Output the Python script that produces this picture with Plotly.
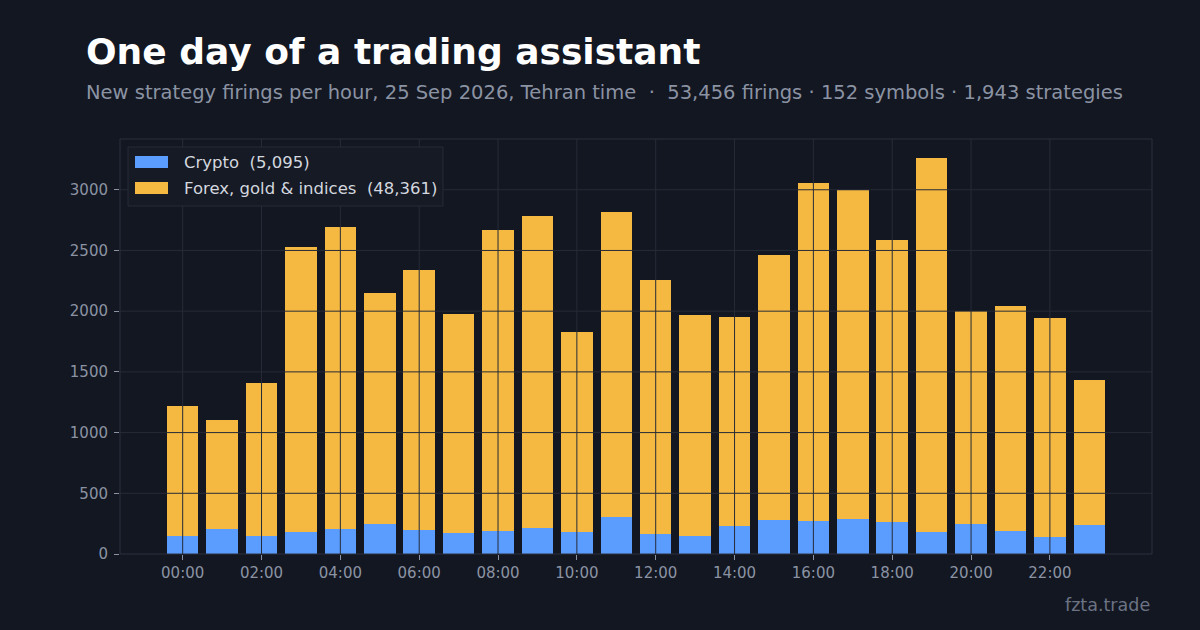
import plotly.graph_objects as go

# hourly firings, 25 Sep 2026 (Tehran time)
hours = list(range(24))
crypto = [152, 209, 146, 182, 209, 251, 201, 174, 193, 218, 182, 304,
          168, 152, 234, 283, 275, 288, 267, 185, 251, 193, 136, 242]
forex = [1064, 892, 1259, 2346, 2484, 1902, 2138, 1799, 2475, 2565, 1643, 2512,
         2089, 1815, 1722, 2179, 2782, 2709, 2319, 3075, 1754, 1846, 1804, 1188]

series_names = ["Crypto  (5,095)", "Forex, gold & indices  (48,361)"]
series_colors = ["#5b9dff", "#f5b942"]

x_ticks = list(range(0, 24, 2))
x_labels = ["%02d:00" % h for h in x_ticks]
y_ticks = [0, 500, 1000, 1500, 2000, 2500, 3000]

BG = "#131722"
GRID = "#262b37"
SPINE = "#2c313d"
MUTED = "#8b93a3"

fig = go.Figure()
for vals, name, color in zip([crypto, forex], series_names, series_colors):
    fig.add_trace(go.Bar(
        x=hours, y=vals, name=name,
        marker=dict(color=color, line=dict(width=0)), width=0.8,
    ))

# pixel -> paper coords helper (plot area is 120..1152 x 139..554)
plot_w, plot_h = 1200 - 120 - 48, 630 - 139 - 76


def px(x, y):
    return (x - 120) / plot_w, (630 - 76 - y) / plot_h


# matplotlib-like grid drawn over the bars
shapes = []
for v in y_ticks[1:]:
    shapes.append(dict(type="line", xref="paper", x0=0, x1=1, yref="y", y0=v, y1=v,
                       line=dict(color=GRID, width=1), layer="above"))
for v in x_ticks:
    shapes.append(dict(type="line", xref="x", x0=v, x1=v, yref="paper", y0=0, y1=1,
                       line=dict(color=GRID, width=1), layer="above"))
shapes.append(dict(type="rect", xref="paper", yref="paper", x0=0, x1=1, y0=0, y1=1,
                   line=dict(color=SPINE, width=1), layer="above"))

# legend box drawn by hand (wide swatches like the original)
bx0, by0 = px(128, 206)
bx1, by1 = px(443, 147)
shapes.append(dict(type="rect", xref="paper", yref="paper", x0=bx0, x1=bx1, y0=by0, y1=by1,
                   fillcolor="#161a24", line=dict(color="#262b37", width=1), layer="above"))
annotations = []
for i, (name, color) in enumerate(zip(series_names, series_colors)):
    cy = 162 + 26 * i
    sx0, sy0 = px(135, cy + 6)
    sx1, sy1 = px(168, cy - 6)
    shapes.append(dict(type="rect", xref="paper", yref="paper", x0=sx0, x1=sx1, y0=sy0, y1=sy1,
                       fillcolor=color, line=dict(width=0), layer="above"))
    lx, ly = px(182, cy)
    annotations.append(dict(text=name, xref="paper", yref="paper", x=lx, y=ly,
                            xanchor="left", yanchor="middle", showarrow=False,
                            font=dict(size=16.5, color="#d3d7df")))

tx, ty = px(84, 52)
sx, sy = px(84, 92)
wx, wy = px(1152, 605)
annotations += [
    dict(text="<b>One day of a trading assistant</b>", xref="paper", yref="paper",
         x=tx, y=ty, xanchor="left", yanchor="middle",
         font=dict(size=36, color="#ffffff"), showarrow=False),
    dict(text="New strategy firings per hour, 25 Sep 2026, Tehran time  \u00b7  "
              "53,456 firings \u00b7 152 symbols \u00b7 1,943 strategies",
         xref="paper", yref="paper", x=sx, y=sy, xanchor="left", yanchor="middle",
         font=dict(size=19.5, color=MUTED), showarrow=False),
    dict(text="fzta.trade", xref="paper", yref="paper", x=wx, y=wy,
         xanchor="right", yanchor="middle",
         font=dict(size=17.5, color="#6b7384"), showarrow=False),
]

fig.update_layout(
    width=1200, height=630,
    barmode="stack", bargap=0.2,
    paper_bgcolor=BG, plot_bgcolor=BG,
    font=dict(family="DejaVu Sans", color=MUTED, size=15),
    margin=dict(l=120, r=48, t=139, b=76),
    shapes=shapes,
    annotations=annotations,
    showlegend=False,
    xaxis=dict(
        range=[-1.59, 24.59], tickvals=x_ticks, ticktext=x_labels,
        showgrid=False, zeroline=False, showline=False,
        ticks="outside", ticklen=5, tickcolor=MUTED, tickfont=dict(size=15, color=MUTED),
    ),
    yaxis=dict(
        range=[0, 3418], tickvals=y_ticks,
        showgrid=False, zeroline=False, showline=False,
        ticks="outside", ticklen=5, tickcolor=MUTED, tickfont=dict(size=15, color=MUTED),
        ticklabelstandoff=3,
    ),
)

fig.write_html("out.html", config={"displayModeBar": False},
               post_script="document.body.style.margin='0';")
